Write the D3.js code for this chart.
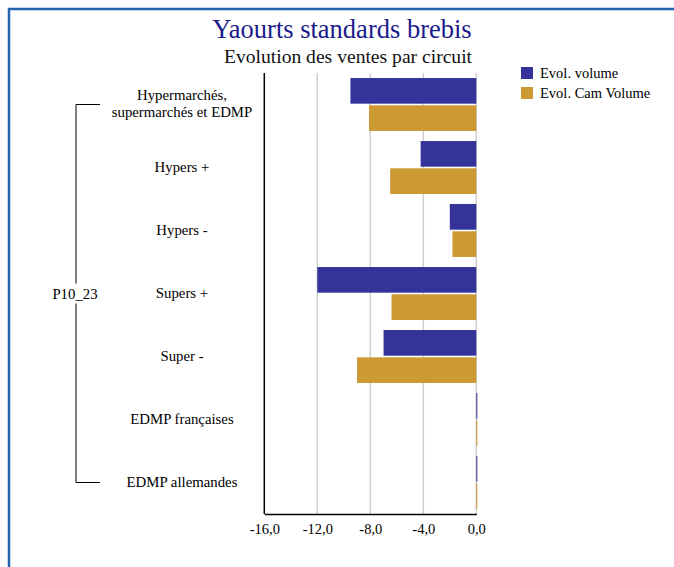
<!DOCTYPE html>
<html>
<head>
<meta charset="utf-8">
<script src="https://cdn.jsdelivr.net/npm/d3@7"></script>
<style>
  body { margin: 0; background: #fff; }
  svg text { font-family: "Liberation Serif", "Times New Roman", serif; }
</style>
</head>
<body>
<svg width="674" height="567"></svg>
<script>
var categories = ["Hypermarchés,\nsupermarchés et EDMP", "Hypers +", "Hypers -", "Supers +", "Super -", "EDMP françaises", "EDMP allemandes"];
var seriesNames = ["Evol. volume", "Evol. Cam Volume"];
var volume    = [-9.5, -4.2, -2.0, -12.0, -7.0, 0.05, 0.05];
var camVolume = [-8.1, -6.5, -1.8, -6.4, -9.0, 0.05, 0.05];
var ticks = [-16, -12, -8, -4, 0];
var groupLabel = "P10_23";
var colors = ["#333399", "#cc9933"];

var svg = d3.select("svg");

// frame
svg.append("path")
  .attr("d", "M9,567 V9 H674")
  .attr("fill", "none")
  .attr("stroke", "#2462b0")
  .attr("stroke-width", 2.5);

svg.append("text")
  .attr("x", 342).attr("y", 38)
  .attr("text-anchor", "middle")
  .attr("fill", "#1a1a8c")
  .attr("font-size", 26.5)
  .text("Yaourts standards brebis");

svg.append("text")
  .attr("x", 348).attr("y", 63)
  .attr("text-anchor", "middle")
  .attr("fill", "#111")
  .attr("font-size", 19.6)
  .text("Evolution des ventes par circuit");

var x = d3.scaleLinear().domain([-16, 0]).range([264.3, 476.3]);
var y = d3.scaleBand().domain(categories).range([73, 514]).paddingInner(0.16).paddingOuter(0.08);
var ys = d3.scaleBand().domain([0, 1]).range([0, y.bandwidth()]).paddingInner(0.06);

var g = svg.append("g");

// grid
g.selectAll(".grid")
  .data(ticks.slice(1))
  .enter().append("line")
    .attr("x1", d => x(d)).attr("x2", d => x(d))
    .attr("y1", 73).attr("y2", 514)
    .attr("stroke", "#cfcfcf")
    .attr("stroke-width", 1.5);

var rows = categories.map(function (c, i) { return [volume[i], camVolume[i]]; });

g.selectAll(".cat")
  .data(rows)
  .enter().append("g")
    .attr("transform", (d, i) => "translate(0," + y(categories[i]) + ")")
  .selectAll("rect")
  .data(d => d)
  .enter().append("rect")
    .attr("x", d => x(Math.min(0, d)))
    .attr("y", (d, j) => ys(j))
    .attr("width", d => Math.max(1, Math.abs(x(d) - x(0))))
    .attr("height", ys.bandwidth())
    .attr("fill", (d, j) => colors[j]);

// axes
var xAxis = d3.axisBottom(x).tickValues(ticks).tickSize(0).tickPadding(10)
  .tickFormat(d => d3.format(".1f")(d).replace(".", ",").replace("−", "-"));
var ax = g.append("g").attr("transform", "translate(0,514)").call(xAxis);
ax.select(".domain").attr("stroke", "#000").attr("stroke-width", 1.5);
ax.selectAll("text").attr("font-size", 14.5).attr("fill", "#000")
  .style("font-family", "'Liberation Serif', serif");

g.append("line")
  .attr("x1", 264.3).attr("x2", 264.3).attr("y1", 73).attr("y2", 514)
  .attr("stroke", "#000").attr("stroke-width", 1.5);

// category labels
var labels = g.selectAll(".lab")
  .data(categories)
  .enter().append("text")
    .attr("text-anchor", "middle")
    .attr("font-size", 14.8)
    .attr("fill", "#000");
labels.each(function (d) {
  var lines = d.split("\n");
  var cy = y(d) + y.bandwidth() / 2;
  var t = d3.select(this);
  lines.forEach(function (l, k) {
    t.append("tspan")
      .attr("x", 182)
      .attr("y", cy + 4 + (k - (lines.length - 1) / 2) * 17)
      .text(l);
  });
});

// group bracket
var topY = y(categories[0]) + y.bandwidth() / 2;
var botY = y(categories[categories.length - 1]) + y.bandwidth() / 2;
g.append("path")
  .attr("d", "M100," + topY + " H76 V" + botY + " H100")
  .attr("fill", "none")
  .attr("stroke", "#000")
  .attr("stroke-width", 1);
var midY = (y(categories[3]) + y.bandwidth() / 2);
g.append("rect")
  .attr("x", 46).attr("y", midY - 10).attr("width", 58).attr("height", 20)
  .attr("fill", "#fff");
g.append("text")
  .attr("x", 75).attr("y", midY + 5)
  .attr("text-anchor", "middle")
  .attr("font-size", 14.8)
  .text(groupLabel);

// legend
var leg = svg.append("g").attr("transform", "translate(521,67)");
var li = leg.selectAll("g").data(seriesNames).enter().append("g")
  .attr("transform", (d, i) => "translate(0," + i * 20 + ")");
li.append("rect").attr("width", 12).attr("height", 12).attr("fill", (d, i) => colors[i]);
li.append("text").attr("x", 19).attr("y", 11).attr("font-size", 14.5).text(d => d);
</script>
</body>
</html>
